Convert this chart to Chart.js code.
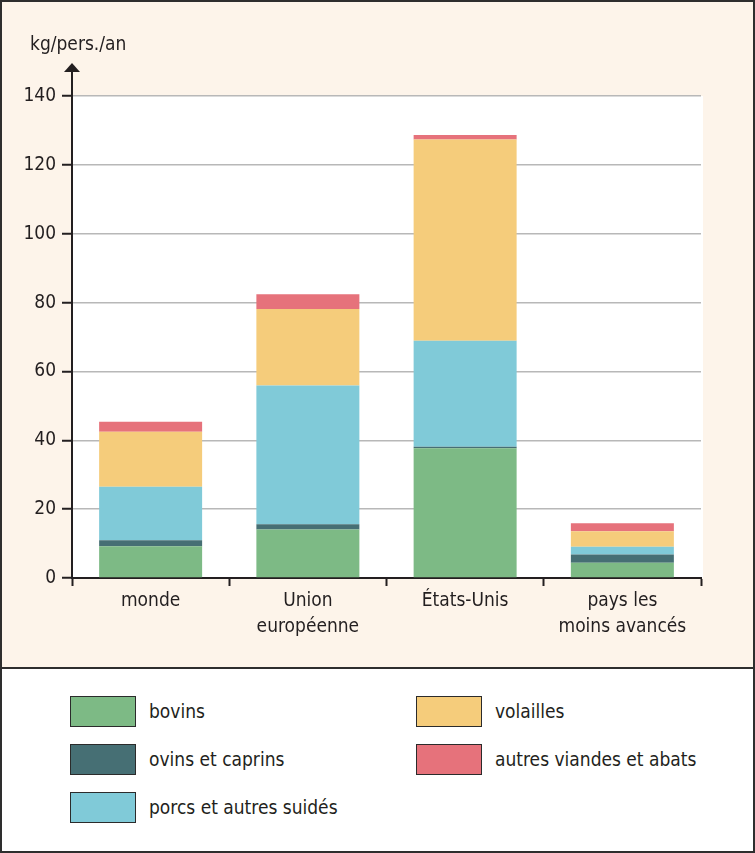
<!DOCTYPE html>
<html>
<head>
<meta charset="utf-8">
<script src="https://cdn.jsdelivr.net/npm/chart.js@4/dist/chart.umd.min.js"></script>
<style>
  html, body { margin: 0; padding: 0; background: #ffffff; }
  #wrap { position: relative; width: 755px; height: 853px; overflow: hidden; }
  #c { position: absolute; left: 0; top: 0; background: #fdf4ea; }
  #legend { position: absolute; left: 0; top: 668px; width: 755px; height: 185px; background: #ffffff; }
  .item { position: absolute; height: 32px; display: flex; align-items: center; }
  .box { width: 64px; height: 29px; border: 1.5px solid #2b2b2b; flex: none; }
  .lbl { margin-left: 13px; font-family: 'Liberation Sans Narrow', 'DejaVu Sans Condensed', sans-serif; font-size: 19px; color: #231f20; white-space: nowrap; }
  #frame { position: absolute; left: 0; top: 0; width: 755px; height: 853px; box-sizing: border-box; border: 2px solid #2e2e2e; pointer-events: none; }
  #sep { position: absolute; left: 0; top: 667px; width: 755px; height: 2px; background: #2e2e2e; }
</style>
</head>
<body>
<div id="wrap">
  <canvas id="c" width="755" height="668"></canvas>
  <div id="legend"></div>
  <div id="sep"></div>
  <div id="frame"></div>
</div>
<script>
const yTitle = 'kg/pers./an';
const categories = ['monde', ['Union', 'européenne'], 'États-Unis', ['pays les', 'moins avancés']];
const seriesNames = ['bovins', 'ovins et caprins', 'porcs et autres suidés', 'volailles', 'autres viandes et abats'];
const bovins = [9.2, 14.1, 37.7, 4.4];
const ovins = [1.8, 1.5, 0.4, 2.4];
const porcs = [15.5, 40.3, 30.8, 2.3];
const volailles = [16.0, 22.2, 58.5, 4.5];
const autres = [2.9, 4.3, 1.3, 2.3];
const yMax = 140;
const yStep = 20;

const colors = ['#7dba85', '#466f74', '#80cad8', '#f5cc7b', '#e6727b'];
const seriesValues = [bovins, ovins, porcs, volailles, autres];
const FONT = "'Liberation Sans Narrow', 'DejaVu Sans Condensed', sans-serif";
const FSIZE = 19;
const DARK = '#231f20';

const datasets = seriesValues.map((vals, i) => ({
  label: seriesNames[i],
  data: vals,
  backgroundColor: colors[i],
  borderWidth: 0,
  barPercentage: 0.655,
  categoryPercentage: 1.0
}));

const decor = {
  id: 'decor',
  beforeDraw(chart) {
    const { ctx, chartArea: a } = chart;
    ctx.save();
    ctx.fillStyle = '#ffffff';
    ctx.fillRect(a.left, a.top, a.right - a.left + 2, a.bottom - a.top);
    ctx.restore();
  },
  afterDraw(chart) {
    const { ctx, chartArea: a } = chart;
    ctx.save();
    ctx.strokeStyle = DARK;
    ctx.lineWidth = 2;
    ctx.beginPath();
    ctx.moveTo(a.left, a.top);
    ctx.lineTo(a.left, 70);
    ctx.stroke();
    ctx.fillStyle = DARK;
    ctx.beginPath();
    ctx.moveTo(a.left, 63);
    ctx.lineTo(a.left - 8, 72);
    ctx.lineTo(a.left + 8, 72);
    ctx.closePath();
    ctx.fill();
    // axis title
    ctx.font = FSIZE + 'px ' + FONT;
    ctx.textAlign = 'left';
    ctx.textBaseline = 'middle';
    ctx.fillText(yTitle, 30, 45);
    ctx.restore();
  }
};

Chart.defaults.font.family = FONT;

new Chart(document.getElementById('c'), {
  type: 'bar',
  data: { labels: categories, datasets },
  options: {
    responsive: false,
    animation: false,
    layout: { padding: { left: 0, right: 54, top: 96, bottom: 0 } },
    plugins: {
      legend: { display: false },
      tooltip: { enabled: false },
      title: { display: false }
    },
    scales: {
      x: {
        stacked: true,
        afterFit(scale) { scale.height = 90; },
        grid: { offset: true, drawOnChartArea: false, tickLength: 8, tickColor: DARK, tickWidth: 2 },
        border: { color: DARK, width: 2 },
        ticks: { color: DARK, font: { size: FSIZE, family: FONT, lineHeight: 1.32 }, padding: 3, maxRotation: 0, autoSkip: false }
      },
      y: {
        stacked: true,
        min: 0,
        max: yMax,
        afterFit(scale) { scale.width = 72; },
        grid: { color: '#b8b8b8', lineWidth: 1.5, tickLength: 10, tickColor: DARK, tickWidth: 2 },
        border: { color: DARK, width: 2 },
        ticks: { stepSize: yStep, color: DARK, font: { size: FSIZE, family: FONT }, padding: 6 }
      }
    }
  },
  plugins: [decor]
});

// HTML legend built from the datasets
const legendEl = document.getElementById('legend');
const pos = [
  { left: 70, top: 27 }, { left: 70, top: 75 }, { left: 70, top: 123 },
  { left: 416, top: 27 }, { left: 416, top: 75 }
];
seriesNames.forEach((name, i) => {
  const item = document.createElement('div');
  item.className = 'item';
  item.style.left = pos[i].left + 'px';
  item.style.top = pos[i].top + 'px';
  const box = document.createElement('div');
  box.className = 'box';
  box.style.background = colors[i];
  const lbl = document.createElement('span');
  lbl.className = 'lbl';
  lbl.textContent = name;
  item.appendChild(box);
  item.appendChild(lbl);
  legendEl.appendChild(item);
});
</script>
</body>
</html>
